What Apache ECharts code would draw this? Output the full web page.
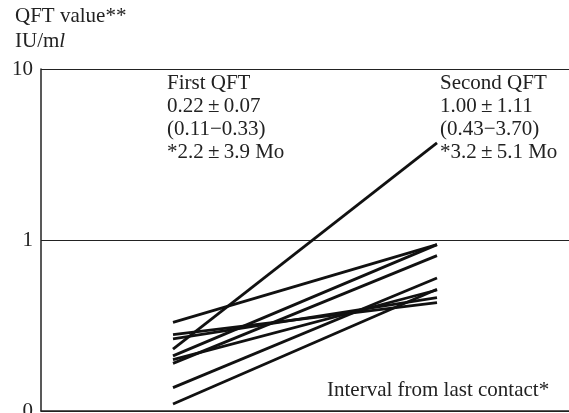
<!DOCTYPE html>
<html>
<head>
<meta charset="utf-8">
<script src="https://cdn.jsdelivr.net/npm/echarts@6/dist/echarts.min.js"></script>
<style>
html,body{margin:0;padding:0;background:#fff;}
#c{width:569px;height:413px;}
</style>
</head>
<body>
<div id="c"></div>
<script>
// Data
const visitX = [1, 3];                 // First QFT, Second QFT positions
const firstQFT  = [0.33, 0.28, 0.264, 0.23, 0.21, 0.20, 0.19, 0.137, 0.11];
const secondQFT = [0.94, 0.43, 0.46, 3.70, 0.94, 0.51, 0.81, 0.60, 0.515];
const yTicks = [0.1, 1, 10];
const yTickLabels = ['0', '1', '10'];
const firstText = ['First QFT', '0.22\u2009\u00B1\u20090.07', '(0.11\u22120.33)', '*2.2\u2009\u00B1\u20093.9 Mo'];
const secondText = ['Second QFT', '1.00\u2009\u00B1\u20091.11', '(0.43\u22123.70)', '*3.2\u2009\u00B1\u20095.1 Mo'];

const FONT = '"Liberation Serif", "DejaVu Serif", serif';
const chart = echarts.init(document.getElementById('c'), null, {renderer: 'canvas'});

const series = firstQFT.map((v, i) => ({
  type: 'line',
  data: [[visitX[0], v], [visitX[1], secondQFT[i]]],
  symbol: 'none',
  lineStyle: {color: '#111', width: 2.8},
  silent: true,
  z: 3
}));

chart.setOption({
  animation: false,
  grid: {left: 41, right: 0, top: 69, bottom: 2, containLabel: false, outerBoundsMode: 'none'},
  xAxis: {
    type: 'value', min: 0, max: 4,
    axisLine: {show: true, lineStyle: {color: '#222', width: 1.5}},
    axisTick: {show: false}, axisLabel: {show: false}, splitLine: {show: false}
  },
  yAxis: {
    type: 'log', logBase: 10, min: 0.1, max: 10,
    axisLine: {show: true, lineStyle: {color: '#222', width: 1.5}},
    axisTick: {show: false},
    splitLine: {show: true, lineStyle: {color: '#222', width: 1.2}},
    axisLabel: {
      fontFamily: FONT, fontSize: 21, color: '#222', margin: 8,
      formatter: v => {
        const i = yTicks.findIndex(t => Math.abs(Math.log10(t) - Math.log10(v)) < 1e-6);
        return i >= 0 ? yTickLabels[i] : '';
      }
    }
  },
  graphic: [
    {type: 'text', left: 15, top: 6, style: {text: 'QFT value**', font: '21px ' + FONT, fill: '#222'}},
    {type: 'text', left: 15, top: 31, style: {
      text: '{a|IU/m}{b|l}',
      rich: {
        a: {fontFamily: FONT, fontSize: 21, fill: '#222', color: '#222'},
        b: {fontFamily: FONT, fontSize: 21, fontStyle: 'italic', fill: '#222', color: '#222'}
      }
    }},
    {type: 'text', left: 167, top: 72, style: {text: firstText.join('\n'), font: '21px ' + FONT, fill: '#222', lineHeight: 23}},
    {type: 'text', left: 440, top: 72, style: {text: secondText.join('\n'), font: '21px ' + FONT, fill: '#222', lineHeight: 23}},
    {type: 'text', left: 327, top: 380, style: {text: 'Interval from last contact*', font: '21px ' + FONT, fill: '#222'}}
  ],
  series: series
});
</script>
</body>
</html>
